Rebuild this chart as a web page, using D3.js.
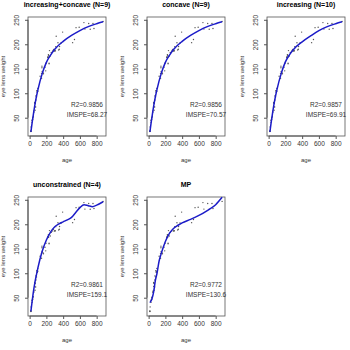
<!DOCTYPE html>
<html>
<head>
<meta charset="utf-8">
<script src="https://cdn.jsdelivr.net/npm/d3@7"></script>
<style>
  body { margin: 0; background: #fff; }
  svg { display: block; font-family: "Liberation Sans", Arial, sans-serif; }
</style>
</head>
<body>
<div id="chart"></div>
<script>
// rabbit eye lens data: age (days) and lens weight (mg)
var age = [15,15,15,18,28,29,37,37,44,50,50,60,61,64,65,65,72,75,75,82,85,91,91,97,98,
  125,142,142,147,147,150,159,165,183,192,195,218,218,219,224,225,227,232,232,237,246,
  258,276,285,300,301,305,312,317,338,347,354,357,375,394,513,535,554,591,648,660,705,
  723,756,768,877];
var weight = [21.66,22.75,22.3,31.25,44.79,40.55,50.25,46.88,52.03,63.47,61.13,81,73.09,
  79.09,79.51,65.31,71.9,86.1,94.6,92.5,105,101.7,102.9,110,104.3,134.9,130.68,140.58,
  155.3,152.2,144.5,142.15,139.81,153.22,145.72,161.1,174.18,173.03,173.54,178.86,177.68,
  173.73,159.98,161.29,187.07,176.13,183.4,186.26,189.66,186.09,186.7,186.8,195.1,216.41,
  203.23,188.38,189.7,195.31,202.63,224.82,203.3,209.7,233.9,234.7,244.3,231,242.4,230.77,
  242.57,232.12,246.7];

// fitted curves
var fitAge = [15,30,50,75,100,150,200,250,300,400,500,600,700,800,877];
var fitIncConc = [21,40,63,88,108,140,163,178,190,206,218,228,236,242,246];
var fitConc    = [21,40,63,88,108,140,163,178,190,206,218,228,236,242,246];
var fitInc     = [21,40,63,88,108,140,164,179,190,205,217,228,236,242,246];

var unconAge = [15,50,100,150,200,250,300,350,400,450,500,550,600,650,700,750,800,877];
var fitUncon = [22,68,112,145,168,184,195,201,205,209,214,224,234,240,238,236,239,246];

var mpAge = [15,40,60,80,100,125,150,200,250,300,350,400,500,600,700,800,877];
var fitMP = [40,48,62,85,100,125,140,165,182,192,198,203,210,218,228,240,255];

var titles = ["increasing+concave (N=9)", "concave (N=9)", "increasing (N=10)",
  "unconstrained (N=4)", "MP"];
var r2 = ["R2=0.9856", "R2=0.9856", "R2=0.9857", "R2=0.9861", "R2=0.9772"];
var imspe = ["IMSPE=68.27", "IMSPE=70.57", "IMSPE=69.91", "IMSPE=159.1", "IMSPE=130.6"];
var xTicks = [0, 200, 400, 600, 800];
var yTicks = [50, 100, 150, 200, 250];

var curves = [
  {x: fitAge, y: fitIncConc},
  {x: fitAge, y: fitConc},
  {x: fitAge, y: fitInc},
  {x: unconAge, y: fitUncon},
  {x: mpAge, y: fitMP}
];

var svg = d3.select("#chart").append("svg")
  .attr("width", 350)
  .attr("height", 350);

// panel positions (box left/top), box size
var lefts = [28, 147, 267];
var tops = [17, 197];
var bw = 78, bh = 119;

// R style 4% padding
var xr = d3.extent(age), yr = d3.extent(weight);
var xpad = (xr[1] - xr[0]) * 0.04, ypad = (yr[1] - yr[0]) * 0.04;

for (var i = 0; i < 5; i++) {
  var g = svg.append("g")
    .attr("transform", "translate(" + lefts[i % 3] + "," + tops[Math.floor(i / 3)] + ")");

  var x = d3.scaleLinear().domain([xr[0] - xpad, xr[1] + xpad]).range([0, bw]);
  var y = d3.scaleLinear().domain([yr[0] - ypad, yr[1] + ypad]).range([bh, 0]);

  // x axis
  var xa = g.append("g")
    .attr("transform", "translate(0," + bh + ")")
    .call(d3.axisBottom(x).tickValues(xTicks).tickSize(3).tickPadding(2).tickSizeOuter(0));
  xa.select(".domain").attr("d", "M" + x(0) + ",0H" + x(800)).attr("stroke", "#555");
  xa.selectAll(".tick line").attr("stroke", "#555");
  xa.selectAll("text").attr("font-size", "6.5px").attr("fill", "#333").attr("font-family", null);

  // y axis, labels rotated like R
  var ya = g.append("g")
    .call(d3.axisLeft(y).tickValues(yTicks).tickSize(3).tickSizeOuter(0));
  ya.select(".domain").attr("d", "M0," + y(50) + "V" + y(250)).attr("stroke", "#555");
  ya.selectAll(".tick line").attr("stroke", "#555");
  ya.selectAll("text")
    .attr("font-size", "6.5px").attr("fill", "#333").attr("font-family", null)
    .attr("x", null).attr("dy", null)
    .attr("text-anchor", "middle")
    .attr("transform", "translate(-9,0) rotate(-90)");

  // box
  g.append("rect")
    .attr("width", bw).attr("height", bh)
    .attr("fill", "none").attr("stroke", "#555").attr("stroke-width", 0.8);

  // points
  g.append("g").selectAll("circle")
    .data(age)
    .enter()
    .append("circle")
    .attr("cx", function(d) { return x(d); })
    .attr("cy", function(d, j) { return y(weight[j]); })
    .attr("r", 0.7)
    .attr("fill", "#555");

  // fitted curve
  var c = curves[i];
  g.append("path")
    .datum(c.x.map(function(d, j) { return [d, c.y[j]]; }))
    .attr("fill", "none")
    .attr("stroke", "#1c1cc8")
    .attr("stroke-width", 1.5)
    .attr("d", d3.line()
      .x(function(d) { return x(d[0]); })
      .y(function(d) { return y(d[1]); })
      .curve(d3.curveMonotoneX));

  // title
  g.append("text")
    .attr("x", bw / 2).attr("y", -10)
    .attr("text-anchor", "middle")
    .attr("font-size", "7px").attr("font-weight", "bold")
    .text(titles[i]);

  // fit stats
  g.append("text")
    .attr("x", bw - 19).attr("y", 90)
    .attr("text-anchor", "middle")
    .attr("font-size", "6.5px").attr("fill", "#333")
    .text(r2[i]);
  g.append("text")
    .attr("x", bw - 19).attr("y", 100)
    .attr("text-anchor", "middle")
    .attr("font-size", "6.5px").attr("fill", "#333")
    .text(imspe[i]);

  // axis labels
  g.append("text")
    .attr("x", bw / 2).attr("y", bh + 26)
    .attr("text-anchor", "middle")
    .attr("font-size", "6px").attr("fill", "#333")
    .text("age");
  g.append("text")
    .attr("transform", "translate(-23," + (bh / 2) + ") rotate(-90)")
    .attr("text-anchor", "middle")
    .attr("font-size", "6px").attr("fill", "#333")
    .text("eye lens weight");
}
</script>
</body>
</html>
